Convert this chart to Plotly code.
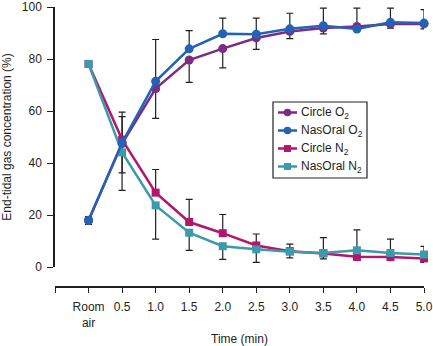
import plotly.graph_objects as go

# Time points (index positions on the x axis) and their tick labels
time_labels = ["Room<br>air", "0.5", "1.0", "1.5", "2.0", "2.5", "3.0", "3.5", "4.0", "4.5", "5.0"]
x_pos = list(range(len(time_labels)))

# End-tidal gas concentration (%)
circle_o2 = [18.0, 47.5, 68.6, 79.6, 84.0, 88.1, 90.6, 91.9, 92.5, 93.5, 93.5]
nasoral_o2 = [17.9, 47.8, 71.4, 83.9, 89.7, 89.5, 91.6, 92.8, 91.5, 94.1, 93.8]
circle_n2 = [78.1, 49.0, 28.6, 17.3, 13.0, 8.3, 6.1, 5.2, 3.9, 3.8, 3.3]
nasoral_n2 = [78.1, 44.1, 23.7, 13.2, 8.0, 6.8, 5.9, 5.4, 6.4, 5.4, 4.8]

# One-sided error bars (upper / lower)
circle_o2_up = [0] * 11
circle_o2_lo = [0, 11.3, 11.4, 8.6, 7.4, 4.4, 2.8, 2.2, 0, 1.6, 1.9]
nasoral_o2_up = [1.5, 11.8, 16.1, 7.0, 6.0, 6.2, 6.0, 6.8, 8.1, 5.5, 5.2]
nasoral_o2_lo = [1.5, 0, 0, 0, 0, 0, 0, 0, 0, 0, 0]
circle_n2_up = [0, 8.8, 8.9, 8.7, 7.2, 4.4, 2.7, 0, 0, 0, 0]
circle_n2_lo = [0, 0, 0, 0, 0, 0, 0, 2.1, 1.3, 0, 1.5]
nasoral_n2_up = [0, 0, 0, 0, 0, 0, 0, 5.9, 7.9, 5.3, 3.1]
nasoral_n2_lo = [0, 14.6, 13.0, 6.8, 5.1, 5.0, 2.4, 0, 0, 0, 0]

series = [
    # name, values, upper, lower, colour, symbol, size
    ("Circle O<sub>2</sub>", circle_o2, circle_o2_up, circle_o2_lo, "#7b2d82", "circle", 9),
    ("NasOral O<sub>2</sub>", nasoral_o2, nasoral_o2_up, nasoral_o2_lo, "#2462b5", "circle", 9),
    ("Circle N<sub>2</sub>", circle_n2, circle_n2_up, circle_n2_lo, "#b3176c", "square", 8),
    ("NasOral N<sub>2</sub>", nasoral_n2, nasoral_n2_up, nasoral_n2_lo, "#3b9aab", "square", 8),
]
draw_order = [2, 0, 3, 1]

FONT = "Liberation Sans, Arial, Helvetica, sans-serif"
INK = "#231f20"

fig = go.Figure()

# Error bars first so that lines and markers sit on top of them
for name, vals, up, lo, col, sym, sz in series:
    fig.add_trace(go.Scatter(
        x=x_pos, y=vals, mode="markers",
        marker=dict(size=1, opacity=0),
        error_y=dict(type="data", symmetric=False, array=up, arrayminus=lo,
                     color=INK, thickness=1.2, width=3.5),
        showlegend=False, hoverinfo="skip", cliponaxis=False,
    ))

for i in draw_order:
    name, vals, up, lo, col, sym, sz = series[i]
    fig.add_trace(go.Scatter(
        x=x_pos, y=vals, mode="lines+markers", name=name,
        line=dict(color=col, width=2.5),
        marker=dict(color=col, symbol=sym, size=sz),
        showlegend=False, cliponaxis=False,
    ))

# Page geometry (pixels)
W, H = 433, 346
ML, MR, MT, MB = 55, 9, 7, 59
PW, PH = W - ML - MR, H - MT - MB
Y0_PX = 267  # pixel row of y = 0
y_dom0 = (H - MB - Y0_PX) / PH


def px(xp):
    return (xp - ML) / PW


def py(yp):
    return (H - MB - yp) / PH


# Boxed legend
shapes = [dict(type="rect", xref="paper", yref="paper",
               x0=px(273), x1=px(367), y0=py(178), y1=py(102),
               line=dict(color=INK, width=1.2), fillcolor="white")]
annotations = []
row_y = [112.5, 130.5, 148.5, 166.5]
for (name, vals, up, lo, col, sym, sz), ry in zip(series, row_y):
    shapes.append(dict(type="line", xref="paper", yref="paper",
                       x0=px(278), x1=px(297), y0=py(ry), y1=py(ry),
                       line=dict(color=col, width=2.5)))
    half = 3.8 if sym == "circle" else 3.5
    shapes.append(dict(type="circle" if sym == "circle" else "rect",
                       xref="paper", yref="paper",
                       xsizemode="pixel", ysizemode="pixel",
                       xanchor=px(287.5), yanchor=py(ry),
                       x0=-half, x1=half, y0=-half, y1=half,
                       fillcolor=col, line=dict(color=col, width=0)))
    annotations.append(dict(xref="paper", yref="paper", x=px(299), y=py(ry),
                            xanchor="left", yanchor="middle", showarrow=False,
                            text=name, font=dict(family=FONT, size=12, color=INK)))

fig.update_layout(
    width=W, height=H,
    margin=dict(l=ML, r=MR, t=MT, b=MB),
    paper_bgcolor="white", plot_bgcolor="white",
    font=dict(family=FONT, size=12, color=INK),
    shapes=shapes, annotations=annotations,
    xaxis=dict(
        range=[-1, 10], tickmode="array",
        tickvals=[-1] + x_pos, ticktext=[""] + time_labels,
        ticks="outside", ticklen=5, tickwidth=1.2, tickcolor=INK,
        showline=True, linewidth=1.5, linecolor=INK,
        showgrid=False, zeroline=False,
        anchor="free", position=0, automargin=False,
        ticklabelstandoff=4, ticklabeloverflow="allow",
        title=dict(text="Time (min)", font=dict(size=12), standoff=5),
        tickfont=dict(size=12),
    ),
    yaxis=dict(
        range=[0, 100], domain=[y_dom0, 1], automargin=False,
        tickvals=[0, 20, 40, 60, 80, 100],
        ticks="outside", ticklen=6, tickwidth=1.2, tickcolor=INK,
        showline=True, linewidth=1.5, linecolor=INK,
        showgrid=False, zeroline=False,
        ticklabelstandoff=3, ticklabeloverflow="allow",
        title=dict(text="End-tidal gas concentration (%)", font=dict(size=12), standoff=11),
        tickfont=dict(size=12),
    ),
)

fig.write_html("out.html")
